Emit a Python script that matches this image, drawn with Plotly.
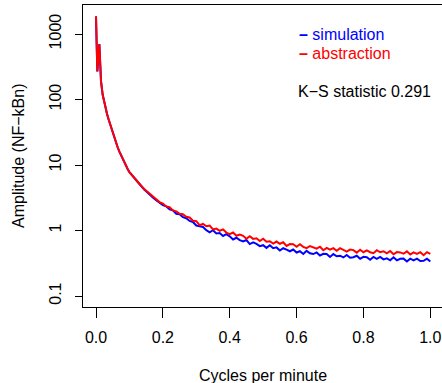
import plotly.graph_objects as go

# ---- data ----
freq_early = [0.000, 0.004, 0.010, 0.015, 0.020, 0.024, 0.028, 0.033, 0.038, 0.044,
              0.050, 0.055, 0.060, 0.065, 0.070, 0.075, 0.080, 0.085, 0.090, 0.095,
              0.100, 0.105, 0.110, 0.115, 0.120, 0.125, 0.130, 0.135, 0.140, 0.145,
              0.150, 0.160, 0.170, 0.180, 0.190]
sim_early = [1860, 268, 703, 189, 118, 92, 74, 60, 49, 39,
             31, 25.5, 21.5, 18.5, 16, 14, 12.3, 10.8, 9.6, 8.6,
             7.8, 7.2, 6.75, 6.3, 5.9, 5.5, 5.1, 4.78, 4.47, 4.2,
             3.98, 3.53, 3.18, 2.90, 2.65]
abs_early = [1860, 268, 703, 189, 118, 92, 74, 60, 49, 39,
             31, 25.5, 21.5, 18.5, 16, 14, 12.3, 10.8, 9.6, 8.6,
             7.8, 7.2, 6.75, 6.3, 5.9, 5.5, 5.1, 4.8, 4.5, 4.25,
             4.05, 3.6, 3.25, 2.97, 2.72]

freq_late = [0.20, 0.21, 0.22, 0.23, 0.24, 0.25, 0.26, 0.27, 0.28, 0.29,
             0.30, 0.31, 0.32, 0.33, 0.34, 0.35, 0.36, 0.37, 0.38, 0.39,
             0.40, 0.41, 0.42, 0.43, 0.44, 0.45, 0.46, 0.47, 0.48, 0.49,
             0.50, 0.51, 0.52, 0.53, 0.54, 0.55, 0.56, 0.57, 0.58, 0.59,
             0.60, 0.61, 0.62, 0.63, 0.64, 0.65, 0.66, 0.67, 0.68, 0.69,
             0.70, 0.71, 0.72, 0.73, 0.74, 0.75, 0.76, 0.77, 0.78, 0.79,
             0.80, 0.81, 0.82, 0.83, 0.84, 0.85, 0.86, 0.87, 0.88, 0.89,
             0.90, 0.91, 0.92, 0.93, 0.94, 0.95, 0.96, 0.97, 0.98, 0.99,
             1.00]
abs_late = [2.58, 2.33, 2.27, 2.03, 1.96, 1.80, 1.77, 1.62, 1.58, 1.41,
            1.39, 1.21, 1.26, 1.16, 1.19, 1.04, 1.07, 0.99, 1.04, 0.93,
            0.88, 0.93, 0.83, 0.865, 0.83, 0.75, 0.82, 0.745, 0.76, 0.69,
            0.75, 0.674, 0.687, 0.632, 0.678, 0.627, 0.66, 0.581, 0.62, 0.617,
            0.566, 0.617, 0.563, 0.538, 0.58, 0.556, 0.528, 0.565, 0.50, 0.542,
            0.51, 0.537, 0.492, 0.538, 0.499, 0.475, 0.511, 0.502, 0.459, 0.508,
            0.466, 0.497, 0.466, 0.45, 0.50, 0.465, 0.482, 0.447, 0.487, 0.434,
            0.469, 0.463, 0.442, 0.481, 0.429, 0.464, 0.44, 0.466, 0.42, 0.468,
            0.441]
sim_late = [2.44, 2.34, 2.11, 2.03, 1.80, 1.77, 1.60, 1.54, 1.40, 1.35,
            1.19, 1.16, 1.13, 1.01, 0.94, 1.01, 0.90, 0.917, 0.826, 0.88,
            0.816, 0.73, 0.775, 0.713, 0.679, 0.714, 0.62, 0.659, 0.626, 0.576,
            0.597, 0.543, 0.594, 0.537, 0.552, 0.494, 0.536, 0.511, 0.482, 0.512,
            0.461, 0.482, 0.439, 0.489, 0.45, 0.437, 0.462, 0.416, 0.441, 0.439,
            0.395, 0.437, 0.404, 0.412, 0.388, 0.424, 0.385, 0.39, 0.411, 0.369,
            0.397, 0.391, 0.358, 0.394, 0.369, 0.394, 0.362, 0.375, 0.351, 0.389,
            0.35, 0.37, 0.372, 0.337, 0.371, 0.351, 0.372, 0.342, 0.345, 0.372,
            0.336]

freq = freq_early + freq_late
simulation = sim_early + sim_late
abstraction = abs_early + abs_late

x_ticks = [0.0, 0.2, 0.4, 0.6, 0.8, 1.0]
x_tick_labels = ["0.0", "0.2", "0.4", "0.6", "0.8", "1.0"]
y_ticks = [0.1, 1, 10, 100, 1000]
y_tick_labels = ["0.1", "1", "10", "100", "1000"]
ks_stat = 0.291

FONT = "Liberation Sans, Arial, Helvetica, sans-serif"
FS = 16

fig = go.Figure()
fig.add_trace(go.Scatter(x=freq, y=simulation, mode="lines", name="simulation",
                         line=dict(color="#0000FF", width=2)))
fig.add_trace(go.Scatter(x=freq, y=abstraction, mode="lines", name="abstraction",
                         line=dict(color="#FF0000", width=2)))

fig.update_layout(
    width=442, height=383,
    margin=dict(l=83, r=0, t=5, b=76, autoexpand=False),
    paper_bgcolor="white", plot_bgcolor="white",
    showlegend=False,
    font=dict(family=FONT, size=FS, color="black"),
)
fig.update_xaxes(
    range=[-0.0389, 1.035], automargin=False,
    tickvals=x_ticks, ticktext=x_tick_labels,
    showgrid=False, zeroline=False,
    showline=True, linecolor="black", linewidth=1, mirror=True,
    ticks="outside", ticklen=10, tickcolor="black", tickwidth=1,
    ticklabelstandoff=6,
)
fig.update_yaxes(
    type="log", range=[-1.168, 3.443], automargin=False,
    tickvals=y_ticks, ticktext=y_tick_labels, tickangle=-90,
    showgrid=False, zeroline=False,
    showline=True, linecolor="black", linewidth=1, mirror=False,
    ticks="outside", ticklen=7, tickcolor="black", tickwidth=1,
    ticklabelstandoff=8,
)

fig.add_annotation(text="Cycles per minute", xref="paper", yref="paper",
                   x=0.5, y=-0.226, xanchor="center", yanchor="middle",
                   showarrow=False, font=dict(size=FS))
fig.add_annotation(text="Amplitude (NF\u2212kBn)", xref="paper", yref="paper",
                   x=-0.181, y=0.5, xanchor="center", yanchor="middle",
                   textangle=-90, showarrow=False, font=dict(size=FS))
fig.add_annotation(text="<b>\u2013</b> simulation", xref="paper", yref="paper",
                   x=0.596, y=0.9007, xanchor="left", yanchor="middle",
                   showarrow=False, font=dict(size=FS, color="#0000FF"))
fig.add_annotation(text="<b>\u2013</b> abstraction", xref="paper", yref="paper",
                   x=0.596, y=0.838, xanchor="left", yanchor="middle",
                   showarrow=False, font=dict(size=FS, color="#FF0000"))
fig.add_annotation(text="K\u2212S statistic %.3f" % ks_stat, xref="paper", yref="paper",
                   x=0.593, y=0.7136, xanchor="left", yanchor="middle",
                   showarrow=False, font=dict(size=FS))

fig.write_html("out.html", config={"displayModeBar": False},
               post_script="document.body.style.margin='0';document.body.style.overflow='hidden';")
